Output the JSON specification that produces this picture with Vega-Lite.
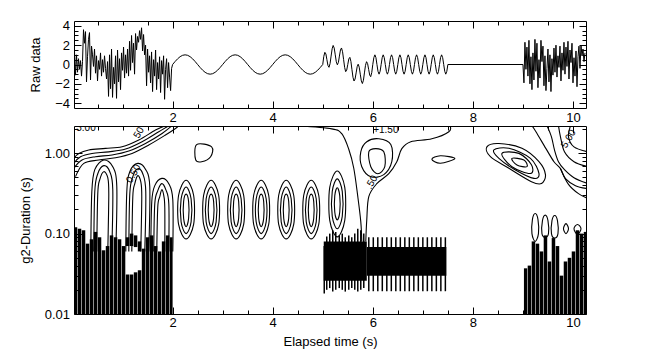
{
"$schema":"https://vega.github.io/schema/vega-lite/v6.json",
"background":"white",
"padding":{"left":18,"top":19,"right":5,"bottom":5},
"config":{"view":{"stroke":"black","strokeWidth":1},"font":"Liberation Sans",
"axis":{"domain":false,"grid":false,"tickColor":"black","tickWidth":1,"labelColor":"black","labelFontSize":13,"labelFont":"Liberation Sans","titleFont":"Liberation Sans","titleFontSize":13,"titleFontWeight":"normal","titleColor":"black","labelFlush":false,"labelOverlap":false}},
"datasets":{
"raw":[
{"t":0.02,"v":0.5},{"t":0.04,"v":1.3},{"t":0.06,"v":-1.1},{"t":0.08,"v":1.0},{"t":0.1,"v":-0.8},{"t":0.12,"v":0.6},{"t":0.14,"v":-0.5},{"t":0.16,"v":0.4},{"t":0.18,"v":-1.2},{"t":0.2,"v":0.3},
{"t":0.22,"v":3.6},{"t":0.24,"v":2.2},{"t":0.26,"v":3.4},{"t":0.28,"v":-1.8},{"t":0.3,"v":0.8},{"t":0.32,"v":2.6},{"t":0.34,"v":3.3},{"t":0.36,"v":-1.6},{"t":0.38,"v":1.9},{"t":0.4,"v":1.0},
{"t":0.42,"v":-0.2},{"t":0.44,"v":1.6},{"t":0.46,"v":-0.9},{"t":0.48,"v":0.9},{"t":0.5,"v":-1.7},{"t":0.52,"v":0.4},{"t":0.54,"v":-0.5},{"t":0.56,"v":1.2},{"t":0.58,"v":-1.2},{"t":0.6,"v":0.5},
{"t":0.62,"v":-0.8},{"t":0.64,"v":0.9},{"t":0.66,"v":-0.4},{"t":0.68,"v":-1.5},{"t":0.7,"v":0.3},{"t":0.72,"v":-3.3},{"t":0.74,"v":1.0},{"t":0.76,"v":-2.5},{"t":0.78,"v":1.6},{"t":0.8,"v":-3.4},
{"t":0.82,"v":-0.3},{"t":0.84,"v":-2.0},{"t":0.86,"v":0.9},{"t":0.88,"v":-3.5},{"t":0.9,"v":1.5},{"t":0.92,"v":-1.8},{"t":0.94,"v":0.6},{"t":0.96,"v":-2.6},{"t":0.98,"v":1.2},{"t":1.0,"v":-0.6},
{"t":1.02,"v":1.8},{"t":1.04,"v":-1.4},{"t":1.06,"v":1.0},{"t":1.08,"v":-0.9},{"t":1.1,"v":1.6},{"t":1.12,"v":-1.2},{"t":1.14,"v":2.4},{"t":1.16,"v":-0.6},{"t":1.18,"v":3.0},{"t":1.2,"v":0.2},
{"t":1.22,"v":2.2},{"t":1.24,"v":-1.0},{"t":1.26,"v":3.2},{"t":1.28,"v":1.5},{"t":1.3,"v":2.9},{"t":1.32,"v":2.3},{"t":1.34,"v":3.5},{"t":1.36,"v":2.6},{"t":1.38,"v":3.8},{"t":1.4,"v":1.4},
{"t":1.42,"v":3.1},{"t":1.44,"v":1.0},{"t":1.46,"v":2.0},{"t":1.48,"v":-2.2},{"t":1.5,"v":1.6},{"t":1.52,"v":-0.8},{"t":1.54,"v":0.9},{"t":1.56,"v":-1.9},{"t":1.58,"v":1.3},{"t":1.6,"v":-2.8},
{"t":1.62,"v":0.5},{"t":1.64,"v":-1.2},{"t":1.66,"v":1.5},{"t":1.68,"v":-2.6},{"t":1.7,"v":0.2},{"t":1.72,"v":-1.5},{"t":1.74,"v":0.8},{"t":1.76,"v":-2.9},{"t":1.78,"v":0.4},{"t":1.8,"v":-1.0},
{"t":1.82,"v":0.9},{"t":1.84,"v":-3.6},{"t":1.86,"v":-0.5},{"t":1.88,"v":0.6},{"t":1.9,"v":-2.4},{"t":1.92,"v":0.2},{"t":1.94,"v":-1.3},{"t":1.96,"v":-2.7},{"t":1.98,"v":-0.4},{"t":2.0,"v":0.0},
{"t":2.05,"v":0.309},{"t":2.1,"v":0.588},{"t":2.15,"v":0.809},{"t":2.2,"v":0.951},{"t":2.25,"v":1},{"t":2.3,"v":0.951},{"t":2.35,"v":0.809},{"t":2.4,"v":0.588},{"t":2.45,"v":0.309},{"t":2.5,"v":0},
{"t":2.55,"v":-0.309},{"t":2.6,"v":-0.588},{"t":2.65,"v":-0.809},{"t":2.7,"v":-0.951},{"t":2.75,"v":-1},{"t":2.8,"v":-0.951},{"t":2.85,"v":-0.809},{"t":2.9,"v":-0.588},{"t":2.95,"v":-0.309},{"t":3.0,"v":0},
{"t":3.05,"v":0.309},{"t":3.1,"v":0.588},{"t":3.15,"v":0.809},{"t":3.2,"v":0.951},{"t":3.25,"v":1},{"t":3.3,"v":0.951},{"t":3.35,"v":0.809},{"t":3.4,"v":0.588},{"t":3.45,"v":0.309},{"t":3.5,"v":0},
{"t":3.55,"v":-0.309},{"t":3.6,"v":-0.588},{"t":3.65,"v":-0.809},{"t":3.7,"v":-0.951},{"t":3.75,"v":-1},{"t":3.8,"v":-0.951},{"t":3.85,"v":-0.809},{"t":3.9,"v":-0.588},{"t":3.95,"v":-0.309},{"t":4.0,"v":0},
{"t":4.05,"v":0.309},{"t":4.1,"v":0.588},{"t":4.15,"v":0.809},{"t":4.2,"v":0.951},{"t":4.25,"v":1},{"t":4.3,"v":0.951},{"t":4.35,"v":0.809},{"t":4.4,"v":0.588},{"t":4.45,"v":0.309},{"t":4.5,"v":0},
{"t":4.55,"v":-0.309},{"t":4.6,"v":-0.588},{"t":4.65,"v":-0.809},{"t":4.7,"v":-0.951},{"t":4.75,"v":-1},{"t":4.8,"v":-0.951},{"t":4.85,"v":-0.809},{"t":4.9,"v":-0.588},{"t":4.95,"v":-0.309},{"t":5.0,"v":0},
{"t":5.021,"v":0.84},{"t":5.042,"v":1.26},{"t":5.063,"v":1.09},{"t":5.083,"v":0.5},{"t":5.104,"v":-0.1},{"t":5.125,"v":-0.29},{"t":5.146,"v":0.09},{"t":5.167,"v":0.87},
{"t":5.188,"v":1.63},{"t":5.208,"v":1.97},{"t":5.229,"v":1.7},{"t":5.25,"v":1.0},{"t":5.271,"v":0.28},{"t":5.292,"v":-0.03},{"t":5.313,"v":0.22},{"t":5.333,"v":0.87},
{"t":5.354,"v":1.5},{"t":5.375,"v":1.71},{"t":5.396,"v":1.32},{"t":5.417,"v":0.5},{"t":5.438,"v":-0.32},{"t":5.458,"v":-0.74},{"t":5.479,"v":-0.58},{"t":5.5,"v":0},
{"t":5.521,"v":0.58},{"t":5.542,"v":0.74},{"t":5.563,"v":0.32},{"t":5.583,"v":-0.5},{"t":5.604,"v":-1.32},{"t":5.625,"v":-1.71},{"t":5.646,"v":-1.5},{"t":5.667,"v":-0.87},
{"t":5.688,"v":-0.22},{"t":5.708,"v":0.03},{"t":5.729,"v":-0.28},{"t":5.75,"v":-1.0},{"t":5.771,"v":-1.7},{"t":5.792,"v":-1.97},{"t":5.813,"v":-1.63},{"t":5.833,"v":-0.87},
{"t":5.854,"v":-0.09},{"t":5.875,"v":0.29},{"t":5.896,"v":0.1},{"t":5.917,"v":-0.5},{"t":5.938,"v":-1.09},{"t":5.958,"v":-1.26},{"t":5.979,"v":-0.84},{"t":6.0,"v":0},
{"t":6.021,"v":0.707},{"t":6.042,"v":1},{"t":6.063,"v":0.707},{"t":6.083,"v":0},{"t":6.104,"v":-0.707},{"t":6.125,"v":-1},{"t":6.146,"v":-0.707},{"t":6.167,"v":0},
{"t":6.188,"v":0.707},{"t":6.208,"v":1},{"t":6.229,"v":0.707},{"t":6.25,"v":0},{"t":6.271,"v":-0.707},{"t":6.292,"v":-1},{"t":6.313,"v":-0.707},{"t":6.333,"v":0},
{"t":6.354,"v":0.707},{"t":6.375,"v":1},{"t":6.396,"v":0.707},{"t":6.417,"v":0},{"t":6.438,"v":-0.707},{"t":6.458,"v":-1},{"t":6.479,"v":-0.707},{"t":6.5,"v":0},
{"t":6.521,"v":0.707},{"t":6.542,"v":1},{"t":6.563,"v":0.707},{"t":6.583,"v":0},{"t":6.604,"v":-0.707},{"t":6.625,"v":-1},{"t":6.646,"v":-0.707},{"t":6.667,"v":0},
{"t":6.688,"v":0.707},{"t":6.708,"v":1},{"t":6.729,"v":0.707},{"t":6.75,"v":0},{"t":6.771,"v":-0.707},{"t":6.792,"v":-1},{"t":6.813,"v":-0.707},{"t":6.833,"v":0},
{"t":6.854,"v":0.707},{"t":6.875,"v":1},{"t":6.896,"v":0.707},{"t":6.917,"v":0},{"t":6.938,"v":-0.707},{"t":6.958,"v":-1},{"t":6.979,"v":-0.707},{"t":7.0,"v":0},
{"t":7.021,"v":0.707},{"t":7.042,"v":1},{"t":7.063,"v":0.707},{"t":7.083,"v":0},{"t":7.104,"v":-0.707},{"t":7.125,"v":-1},{"t":7.146,"v":-0.707},{"t":7.167,"v":0},
{"t":7.188,"v":0.707},{"t":7.208,"v":1},{"t":7.229,"v":0.707},{"t":7.25,"v":0},{"t":7.271,"v":-0.707},{"t":7.292,"v":-1},{"t":7.313,"v":-0.707},{"t":7.333,"v":0},
{"t":7.354,"v":0.707},{"t":7.375,"v":1},{"t":7.396,"v":0.707},{"t":7.417,"v":0},{"t":7.438,"v":-0.707},{"t":7.458,"v":-1},{"t":7.479,"v":-0.707},{"t":7.5,"v":0},
{"t":9.0,"v":0},
{"t":9.02,"v":-1.9},{"t":9.04,"v":2.3},{"t":9.06,"v":-0.5},{"t":9.08,"v":1.8},{"t":9.1,"v":-1.2},{"t":9.12,"v":2.5},{"t":9.14,"v":-2.0},{"t":9.16,"v":0.8},{"t":9.18,"v":-2.6},{"t":9.2,"v":1.2},
{"t":9.22,"v":-1.6},{"t":9.24,"v":2.6},{"t":9.26,"v":-0.7},{"t":9.28,"v":2.2},{"t":9.3,"v":-2.4},{"t":9.32,"v":0.5},{"t":9.34,"v":-1.4},{"t":9.36,"v":2.5},{"t":9.38,"v":0.3},{"t":9.4,"v":1.9},
{"t":9.42,"v":-2.2},{"t":9.44,"v":0.9},{"t":9.46,"v":-2.7},{"t":9.48,"v":-0.4},{"t":9.5,"v":1.6},{"t":9.52,"v":-1.8},{"t":9.54,"v":1.0},{"t":9.56,"v":-2.8},{"t":9.58,"v":0.6},{"t":9.6,"v":-1.1},
{"t":9.62,"v":1.7},{"t":9.64,"v":-0.8},{"t":9.66,"v":2.0},{"t":9.68,"v":-1.3},{"t":9.7,"v":0.9},{"t":9.72,"v":-0.3},{"t":9.74,"v":1.9},{"t":9.76,"v":-1.7},{"t":9.78,"v":1.2},{"t":9.8,"v":-0.6},
{"t":9.82,"v":2.3},{"t":9.84,"v":-1.0},{"t":9.86,"v":1.8},{"t":9.88,"v":-0.2},{"t":9.9,"v":2.4},{"t":9.92,"v":-1.5},{"t":9.94,"v":1.5},{"t":9.96,"v":0.2},{"t":9.98,"v":2.2},{"t":10.0,"v":-1.9},
{"t":10.02,"v":0.7},{"t":10.04,"v":-1.2},{"t":10.06,"v":1.4},{"t":10.08,"v":-2.3},{"t":10.1,"v":0.8},{"t":10.12,"v":1.9},{"t":10.14,"v":-0.4},{"t":10.16,"v":2.0},{"t":10.18,"v":0.9},{"t":10.2,"v":1.6},{"t":10.22,"v":0.3},{"t":10.24,"v":1.2}
],
"dense":[
{"x":0.03,"xe":0.095,"s":0.01,"se":0.12},{"x":0.105,"xe":0.175,"s":0.01,"se":0.115},{"x":0.185,"xe":0.255,"s":0.01,"se":0.11},{"x":0.265,"xe":0.335,"s":0.01,"se":0.075},{"x":0.345,"xe":0.415,"s":0.01,"se":0.085},
{"x":0.425,"xe":0.495,"s":0.01,"se":0.105},{"x":0.505,"xe":0.575,"s":0.01,"se":0.09},{"x":0.585,"xe":0.655,"s":0.01,"se":0.062},{"x":0.665,"xe":0.735,"s":0.01,"se":0.07},{"x":0.745,"xe":0.815,"s":0.01,"se":0.095},
{"x":0.825,"xe":0.895,"s":0.01,"se":0.09},{"x":0.905,"xe":0.975,"s":0.01,"se":0.085},{"x":0.985,"xe":1.055,"s":0.01,"se":0.07},
{"x":1.065,"xe":1.135,"s":0.01,"se":0.031},{"x":1.065,"xe":1.135,"s":0.07,"se":0.09},
{"x":1.145,"xe":1.215,"s":0.01,"se":0.031},{"x":1.145,"xe":1.215,"s":0.07,"se":0.1},
{"x":1.225,"xe":1.295,"s":0.01,"se":0.033},{"x":1.225,"xe":1.295,"s":0.068,"se":0.095},
{"x":1.305,"xe":1.375,"s":0.01,"se":0.035},{"x":1.305,"xe":1.375,"s":0.06,"se":0.08},
{"x":1.385,"xe":1.455,"s":0.01,"se":0.065},{"x":1.465,"xe":1.535,"s":0.01,"se":0.09},{"x":1.545,"xe":1.615,"s":0.01,"se":0.095},{"x":1.625,"xe":1.695,"s":0.01,"se":0.07},
{"x":1.705,"xe":1.775,"s":0.01,"se":0.06},{"x":1.785,"xe":1.855,"s":0.01,"se":0.08},{"x":1.865,"xe":1.935,"s":0.01,"se":0.095},{"x":1.945,"xe":2.0,"s":0.01,"se":0.09},
{"x":5.02,"xe":5.88,"s":0.026,"se":0.08},{"x":5.88,"xe":7.47,"s":0.03,"se":0.068},
{"x":9.02,"xe":9.085,"s":0.01,"se":0.037},{"x":9.095,"xe":9.165,"s":0.01,"se":0.04},{"x":9.175,"xe":9.245,"s":0.01,"se":0.08},{"x":9.255,"xe":9.325,"s":0.01,"se":0.075},
{"x":9.335,"xe":9.405,"s":0.01,"se":0.06},{"x":9.415,"xe":9.485,"s":0.01,"se":0.095},{"x":9.495,"xe":9.565,"s":0.01,"se":0.045},{"x":9.575,"xe":9.645,"s":0.01,"se":0.088},
{"x":9.655,"xe":9.725,"s":0.01,"se":0.07},{"x":9.735,"xe":9.805,"s":0.01,"se":0.03},{"x":9.815,"xe":9.885,"s":0.01,"se":0.045},{"x":9.895,"xe":9.965,"s":0.01,"se":0.05},
{"x":9.975,"xe":10.045,"s":0.01,"se":0.06},{"x":10.055,"xe":10.125,"s":0.01,"se":0.11},{"x":10.135,"xe":10.205,"s":0.01,"se":0.1},{"x":10.215,"xe":10.28,"s":0.01,"se":0.105}
],
"stripes":[
{"x":5.03,"s":0.018,"se":0.07},{"x":5.08,"s":0.02,"se":0.092},{"x":5.14,"s":0.021,"se":0.1},{"x":5.2,"s":0.019,"se":0.11},{"x":5.26,"s":0.02,"se":0.105},{"x":5.33,"s":0.021,"se":0.095},{"x":5.39,"s":0.02,"se":0.1},
{"x":5.45,"s":0.019,"se":0.09},{"x":5.52,"s":0.02,"se":0.095},{"x":5.58,"s":0.021,"se":0.09},{"x":5.64,"s":0.02,"se":0.1},{"x":5.7,"s":0.019,"se":0.115},{"x":5.76,"s":0.02,"se":0.11},{"x":5.82,"s":0.021,"se":0.1},
{"x":5.92,"s":0.0192,"se":0.09},{"x":6.01,"s":0.0192,"se":0.09},{"x":6.1,"s":0.0192,"se":0.09},{"x":6.19,"s":0.0192,"se":0.09},{"x":6.28,"s":0.0192,"se":0.09},{"x":6.37,"s":0.0192,"se":0.09},
{"x":6.46,"s":0.0192,"se":0.09},{"x":6.55,"s":0.0192,"se":0.09},{"x":6.64,"s":0.0192,"se":0.09},{"x":6.73,"s":0.0192,"se":0.09},{"x":6.82,"s":0.0192,"se":0.09},{"x":6.91,"s":0.0192,"se":0.09},
{"x":7.0,"s":0.0192,"se":0.09},{"x":7.09,"s":0.0192,"se":0.09},{"x":7.18,"s":0.0192,"se":0.09},{"x":7.27,"s":0.0192,"se":0.09},{"x":7.36,"s":0.0192,"se":0.09},{"x":7.45,"s":0.0192,"se":0.09}
],
"closed":[
{"id":"e1o","o":0,"x":2.27,"s":0.46},{"id":"e1o","o":1,"x":2.42,"s":0.3},{"id":"e1o","o":2,"x":2.42,"s":0.13},{"id":"e1o","o":3,"x":2.27,"s":0.086},{"id":"e1o","o":4,"x":2.12,"s":0.13},{"id":"e1o","o":5,"x":2.12,"s":0.3},
{"id":"e1m","o":0,"x":2.27,"s":0.38},{"id":"e1m","o":1,"x":2.37,"s":0.27},{"id":"e1m","o":2,"x":2.37,"s":0.14},{"id":"e1m","o":3,"x":2.27,"s":0.1},{"id":"e1m","o":4,"x":2.17,"s":0.14},{"id":"e1m","o":5,"x":2.17,"s":0.27},
{"id":"e1i","o":0,"x":2.27,"s":0.31},{"id":"e1i","o":1,"x":2.32,"s":0.25},{"id":"e1i","o":2,"x":2.32,"s":0.155},{"id":"e1i","o":3,"x":2.27,"s":0.122},{"id":"e1i","o":4,"x":2.22,"s":0.155},{"id":"e1i","o":5,"x":2.22,"s":0.25},
{"id":"e2o","o":0,"x":2.77,"s":0.46},{"id":"e2o","o":1,"x":2.92,"s":0.3},{"id":"e2o","o":2,"x":2.92,"s":0.13},{"id":"e2o","o":3,"x":2.77,"s":0.086},{"id":"e2o","o":4,"x":2.62,"s":0.13},{"id":"e2o","o":5,"x":2.62,"s":0.3},
{"id":"e2m","o":0,"x":2.77,"s":0.38},{"id":"e2m","o":1,"x":2.87,"s":0.27},{"id":"e2m","o":2,"x":2.87,"s":0.14},{"id":"e2m","o":3,"x":2.77,"s":0.1},{"id":"e2m","o":4,"x":2.67,"s":0.14},{"id":"e2m","o":5,"x":2.67,"s":0.27},
{"id":"e2i","o":0,"x":2.77,"s":0.31},{"id":"e2i","o":1,"x":2.82,"s":0.25},{"id":"e2i","o":2,"x":2.82,"s":0.155},{"id":"e2i","o":3,"x":2.77,"s":0.122},{"id":"e2i","o":4,"x":2.72,"s":0.155},{"id":"e2i","o":5,"x":2.72,"s":0.25},
{"id":"e3o","o":0,"x":3.27,"s":0.46},{"id":"e3o","o":1,"x":3.42,"s":0.3},{"id":"e3o","o":2,"x":3.42,"s":0.13},{"id":"e3o","o":3,"x":3.27,"s":0.086},{"id":"e3o","o":4,"x":3.12,"s":0.13},{"id":"e3o","o":5,"x":3.12,"s":0.3},
{"id":"e3m","o":0,"x":3.27,"s":0.38},{"id":"e3m","o":1,"x":3.37,"s":0.27},{"id":"e3m","o":2,"x":3.37,"s":0.14},{"id":"e3m","o":3,"x":3.27,"s":0.1},{"id":"e3m","o":4,"x":3.17,"s":0.14},{"id":"e3m","o":5,"x":3.17,"s":0.27},
{"id":"e3i","o":0,"x":3.27,"s":0.31},{"id":"e3i","o":1,"x":3.32,"s":0.25},{"id":"e3i","o":2,"x":3.32,"s":0.155},{"id":"e3i","o":3,"x":3.27,"s":0.122},{"id":"e3i","o":4,"x":3.22,"s":0.155},{"id":"e3i","o":5,"x":3.22,"s":0.25},
{"id":"e4o","o":0,"x":3.77,"s":0.46},{"id":"e4o","o":1,"x":3.92,"s":0.3},{"id":"e4o","o":2,"x":3.92,"s":0.13},{"id":"e4o","o":3,"x":3.77,"s":0.086},{"id":"e4o","o":4,"x":3.62,"s":0.13},{"id":"e4o","o":5,"x":3.62,"s":0.3},
{"id":"e4m","o":0,"x":3.77,"s":0.38},{"id":"e4m","o":1,"x":3.87,"s":0.27},{"id":"e4m","o":2,"x":3.87,"s":0.14},{"id":"e4m","o":3,"x":3.77,"s":0.1},{"id":"e4m","o":4,"x":3.67,"s":0.14},{"id":"e4m","o":5,"x":3.67,"s":0.27},
{"id":"e4i","o":0,"x":3.77,"s":0.31},{"id":"e4i","o":1,"x":3.82,"s":0.25},{"id":"e4i","o":2,"x":3.82,"s":0.155},{"id":"e4i","o":3,"x":3.77,"s":0.122},{"id":"e4i","o":4,"x":3.72,"s":0.155},{"id":"e4i","o":5,"x":3.72,"s":0.25},
{"id":"e5o","o":0,"x":4.27,"s":0.46},{"id":"e5o","o":1,"x":4.42,"s":0.3},{"id":"e5o","o":2,"x":4.42,"s":0.13},{"id":"e5o","o":3,"x":4.27,"s":0.086},{"id":"e5o","o":4,"x":4.12,"s":0.13},{"id":"e5o","o":5,"x":4.12,"s":0.3},
{"id":"e5m","o":0,"x":4.27,"s":0.38},{"id":"e5m","o":1,"x":4.37,"s":0.27},{"id":"e5m","o":2,"x":4.37,"s":0.14},{"id":"e5m","o":3,"x":4.27,"s":0.1},{"id":"e5m","o":4,"x":4.17,"s":0.14},{"id":"e5m","o":5,"x":4.17,"s":0.27},
{"id":"e5i","o":0,"x":4.27,"s":0.31},{"id":"e5i","o":1,"x":4.32,"s":0.25},{"id":"e5i","o":2,"x":4.32,"s":0.155},{"id":"e5i","o":3,"x":4.27,"s":0.122},{"id":"e5i","o":4,"x":4.22,"s":0.155},{"id":"e5i","o":5,"x":4.22,"s":0.25},
{"id":"e6o","o":0,"x":4.77,"s":0.46},{"id":"e6o","o":1,"x":4.92,"s":0.3},{"id":"e6o","o":2,"x":4.92,"s":0.13},{"id":"e6o","o":3,"x":4.77,"s":0.086},{"id":"e6o","o":4,"x":4.62,"s":0.13},{"id":"e6o","o":5,"x":4.62,"s":0.3},
{"id":"e6m","o":0,"x":4.77,"s":0.38},{"id":"e6m","o":1,"x":4.87,"s":0.27},{"id":"e6m","o":2,"x":4.87,"s":0.14},{"id":"e6m","o":3,"x":4.77,"s":0.1},{"id":"e6m","o":4,"x":4.67,"s":0.14},{"id":"e6m","o":5,"x":4.67,"s":0.27},
{"id":"e6i","o":0,"x":4.77,"s":0.31},{"id":"e6i","o":1,"x":4.82,"s":0.25},{"id":"e6i","o":2,"x":4.82,"s":0.155},{"id":"e6i","o":3,"x":4.77,"s":0.122},{"id":"e6i","o":4,"x":4.72,"s":0.155},{"id":"e6i","o":5,"x":4.72,"s":0.25},
{"id":"e7o","o":0,"x":5.29,"s":0.6},{"id":"e7o","o":1,"x":5.44,"s":0.376},{"id":"e7o","o":2,"x":5.44,"s":0.146},{"id":"e7o","o":3,"x":5.29,"s":0.091},{"id":"e7o","o":4,"x":5.14,"s":0.146},{"id":"e7o","o":5,"x":5.14,"s":0.376},
{"id":"e7m","o":0,"x":5.29,"s":0.48},{"id":"e7m","o":1,"x":5.39,"s":0.335},{"id":"e7m","o":2,"x":5.39,"s":0.164},{"id":"e7m","o":3,"x":5.29,"s":0.115},{"id":"e7m","o":4,"x":5.19,"s":0.164},{"id":"e7m","o":5,"x":5.19,"s":0.335},
{"id":"e7i","o":0,"x":5.29,"s":0.372},{"id":"e7i","o":1,"x":5.34,"s":0.295},{"id":"e7i","o":2,"x":5.34,"s":0.186},{"id":"e7i","o":3,"x":5.29,"s":0.148},{"id":"e7i","o":4,"x":5.24,"s":0.186},{"id":"e7i","o":5,"x":5.24,"s":0.295},
{"id":"b1","o":0,"x":2.48,"s":1.28},{"id":"b1","o":1,"x":2.78,"s":1.2},{"id":"b1","o":2,"x":2.76,"s":0.905},{"id":"b1","o":3,"x":2.58,"s":0.784},{"id":"b1","o":4,"x":2.46,"s":0.83},
{"id":"cC","o":0,"x":5.76,"s":1.04},{"id":"cC","o":1,"x":5.88,"s":1.39},{"id":"cC","o":2,"x":6.12,"s":1.51},{"id":"cC","o":3,"x":6.36,"s":1.28},{"id":"cC","o":4,"x":6.38,"s":0.784},{"id":"cC","o":5,"x":6.22,"s":0.541},{"id":"cC","o":6,"x":5.96,"s":0.511},{"id":"cC","o":7,"x":5.78,"s":0.68},
{"id":"cD","o":0,"x":5.92,"s":1.04},{"id":"cD","o":1,"x":6.06,"s":1.14},{"id":"cD","o":2,"x":6.22,"s":1.04},{"id":"cD","o":3,"x":6.24,"s":0.68},{"id":"cD","o":4,"x":6.1,"s":0.556},{"id":"cD","o":5,"x":5.96,"s":0.68},
{"id":"lens","o":0,"x":7.18,"s":0.84},{"id":"lens","o":1,"x":7.35,"s":0.93},{"id":"lens","o":2,"x":7.64,"s":0.86},{"id":"lens","o":3,"x":7.35,"s":0.75},
{"id":"t1","o":0,"x":8.28,"s":1.2},{"id":"t1","o":1,"x":8.52,"s":1.32},{"id":"t1","o":2,"x":8.98,"s":1.15},{"id":"t1","o":3,"x":9.32,"s":0.784},{"id":"t1","o":4,"x":9.45,"s":0.541},{"id":"t1","o":5,"x":9.37,"s":0.42},{"id":"t1","o":6,"x":9.17,"s":0.443},{"id":"t1","o":7,"x":8.72,"s":0.65},{"id":"t1","o":8,"x":8.35,"s":0.905},
{"id":"t2","o":0,"x":8.42,"s":1.1},{"id":"t2","o":1,"x":8.72,"s":1.15},{"id":"t2","o":2,"x":9.15,"s":0.862},{"id":"t2","o":3,"x":9.32,"s":0.56},{"id":"t2","o":4,"x":9.22,"s":0.486},{"id":"t2","o":5,"x":8.85,"s":0.618},{"id":"t2","o":6,"x":8.52,"s":0.862},
{"id":"t3","o":0,"x":8.58,"s":0.995},{"id":"t3","o":1,"x":8.92,"s":0.995},{"id":"t3","o":2,"x":9.17,"s":0.72},{"id":"t3","o":3,"x":9.15,"s":0.56},{"id":"t3","o":4,"x":8.78,"s":0.68},
{"id":"t4","o":0,"x":8.78,"s":0.862},{"id":"t4","o":1,"x":9.02,"s":0.823},{"id":"t4","o":2,"x":9.08,"s":0.68},{"id":"t4","o":3,"x":8.88,"s":0.714},
{"id":"c1","o":0,"x":9.245,"s":0.178},{"id":"c1","o":1,"x":9.3,"s":0.15},{"id":"c1","o":2,"x":9.31,"s":0.1},{"id":"c1","o":3,"x":9.245,"s":0.08},{"id":"c1","o":4,"x":9.18,"s":0.1},{"id":"c1","o":5,"x":9.19,"s":0.15},
{"id":"c2","o":0,"x":9.445,"s":0.17},{"id":"c2","o":1,"x":9.5,"s":0.145},{"id":"c2","o":2,"x":9.51,"s":0.1},{"id":"c2","o":3,"x":9.445,"s":0.09},{"id":"c2","o":4,"x":9.38,"s":0.1},{"id":"c2","o":5,"x":9.39,"s":0.145},
{"id":"c3","o":0,"x":9.635,"s":0.168},{"id":"c3","o":1,"x":9.69,"s":0.145},{"id":"c3","o":2,"x":9.7,"s":0.1},{"id":"c3","o":3,"x":9.635,"s":0.088},{"id":"c3","o":4,"x":9.57,"s":0.1},{"id":"c3","o":5,"x":9.58,"s":0.145},
{"id":"c4","o":0,"x":9.86,"s":0.133},{"id":"c4","o":1,"x":9.91,"s":0.115},{"id":"c4","o":2,"x":9.86,"s":0.1},{"id":"c4","o":3,"x":9.81,"s":0.115},
{"id":"c5","o":0,"x":10.09,"s":0.13},{"id":"c5","o":1,"x":10.16,"s":0.115},{"id":"c5","o":2,"x":10.09,"s":0.097},{"id":"c5","o":3,"x":10.02,"s":0.115}
],
"open":[
{"id":"A","o":0,"x":4.52,"s":2.2},{"id":"A","o":1,"x":5.18,"s":2.01},{"id":"A","o":2,"x":5.38,"s":1.75},{"id":"A","o":3,"x":5.52,"s":1.12},{"id":"A","o":4,"x":5.62,"s":0.65},{"id":"A","o":5,"x":5.7,"s":0.29},{"id":"A","o":6,"x":5.76,"s":0.141},{"id":"A","o":7,"x":5.78,"s":0.08},
{"id":"B","o":0,"x":5.86,"s":0.08},{"id":"B","o":1,"x":5.88,"s":0.15},{"id":"B","o":2,"x":5.92,"s":0.288},{"id":"B","o":3,"x":6.08,"s":0.418},{"id":"B","o":4,"x":6.32,"s":0.556},{"id":"B","o":5,"x":6.48,"s":0.784},{"id":"B","o":6,"x":6.58,"s":1.14},{"id":"B","o":7,"x":6.76,"s":1.39},{"id":"B","o":8,"x":7.18,"s":1.51},{"id":"B","o":9,"x":7.52,"s":1.85},{"id":"B","o":10,"x":7.54,"s":2.2},
{"id":"L1a","o":0,"x":0.366,"s":0.06},{"id":"L1a","o":1,"x":0.386,"s":0.332},{"id":"L1a","o":2,"x":0.445,"s":0.624},{"id":"L1a","o":3,"x":0.625,"s":0.823},{"id":"L1a","o":4,"x":0.805,"s":0.68},{"id":"L1a","o":5,"x":0.885,"s":0.384},{"id":"L1a","o":6,"x":0.865,"s":0.06},
{"id":"L1b","o":0,"x":0.425,"s":0.06},{"id":"L1b","o":1,"x":0.445,"s":0.332},{"id":"L1b","o":2,"x":0.505,"s":0.556},{"id":"L1b","o":3,"x":0.625,"s":0.7},{"id":"L1b","o":4,"x":0.745,"s":0.589},{"id":"L1b","o":5,"x":0.805,"s":0.352},{"id":"L1b","o":6,"x":0.785,"s":0.06},
{"id":"L1c","o":0,"x":0.485,"s":0.06},{"id":"L1c","o":1,"x":0.505,"s":0.314},{"id":"L1c","o":2,"x":0.545,"s":0.469},{"id":"L1c","o":3,"x":0.625,"s":0.589},{"id":"L1c","o":4,"x":0.705,"s":0.496},{"id":"L1c","o":5,"x":0.725,"s":0.314},{"id":"L1c","o":6,"x":0.705,"s":0.06},
{"id":"L2a","o":0,"x":1.065,"s":0.06},{"id":"L2a","o":1,"x":1.085,"s":0.332},{"id":"L2a","o":2,"x":1.145,"s":0.589},{"id":"L2a","o":3,"x":1.305,"s":0.747},{"id":"L2a","o":4,"x":1.464,"s":0.624},{"id":"L2a","o":5,"x":1.544,"s":0.384},{"id":"L2a","o":6,"x":1.524,"s":0.06},
{"id":"L2b","o":0,"x":1.125,"s":0.06},{"id":"L2b","o":1,"x":1.145,"s":0.314},{"id":"L2b","o":2,"x":1.205,"s":0.511},{"id":"L2b","o":3,"x":1.305,"s":0.642},{"id":"L2b","o":4,"x":1.404,"s":0.556},{"id":"L2b","o":5,"x":1.464,"s":0.332},{"id":"L2b","o":6,"x":1.444,"s":0.06},
{"id":"L2c","o":0,"x":1.185,"s":0.06},{"id":"L2c","o":1,"x":1.205,"s":0.288},{"id":"L2c","o":2,"x":1.245,"s":0.418},{"id":"L2c","o":3,"x":1.305,"s":0.526},{"id":"L2c","o":4,"x":1.364,"s":0.443},{"id":"L2c","o":5,"x":1.384,"s":0.288},{"id":"L2c","o":6,"x":1.364,"s":0.06},
{"id":"L3a","o":0,"x":1.564,"s":0.06},{"id":"L3a","o":1,"x":1.584,"s":0.25},{"id":"L3a","o":2,"x":1.644,"s":0.395},{"id":"L3a","o":3,"x":1.784,"s":0.486},{"id":"L3a","o":4,"x":1.924,"s":0.418},{"id":"L3a","o":5,"x":2.004,"s":0.264},{"id":"L3a","o":6,"x":2.004,"s":0.06},
{"id":"L3b","o":0,"x":1.624,"s":0.06},{"id":"L3b","o":1,"x":1.644,"s":0.236},{"id":"L3b","o":2,"x":1.704,"s":0.342},{"id":"L3b","o":3,"x":1.784,"s":0.418},{"id":"L3b","o":4,"x":1.864,"s":0.352},{"id":"L3b","o":5,"x":1.924,"s":0.236},{"id":"L3b","o":6,"x":1.924,"s":0.06},
{"id":"L3c","o":0,"x":1.684,"s":0.06},{"id":"L3c","o":1,"x":1.704,"s":0.216},{"id":"L3c","o":2,"x":1.744,"s":0.288},{"id":"L3c","o":3,"x":1.784,"s":0.352},{"id":"L3c","o":4,"x":1.824,"s":0.297},{"id":"L3c","o":5,"x":1.844,"s":0.21},{"id":"L3c","o":6,"x":1.844,"s":0.06},
{"id":"n1","o":0,"x":0.026,"s":0.862},{"id":"n1","o":1,"x":0.126,"s":0.994},{"id":"n1","o":2,"x":0.326,"s":1.096},{"id":"n1","o":3,"x":0.66,"s":1.147},{"id":"n1","o":4,"x":0.99,"s":1.204},{"id":"n1","o":5,"x":1.324,"s":1.459},{"id":"n1","o":6,"x":1.658,"s":1.94},{"id":"n1","o":7,"x":1.858,"s":2.2},
{"id":"n2","o":0,"x":0.026,"s":0.747},{"id":"n2","o":1,"x":0.16,"s":0.905},{"id":"n2","o":2,"x":0.39,"s":0.994},{"id":"n2","o":3,"x":0.725,"s":1.04},{"id":"n2","o":4,"x":1.06,"s":1.127},{"id":"n2","o":5,"x":1.39,"s":1.39},{"id":"n2","o":6,"x":1.724,"s":1.85},{"id":"n2","o":7,"x":1.924,"s":2.2},
{"id":"n3","o":0,"x":0.026,"s":0.647},{"id":"n3","o":1,"x":0.19,"s":0.823},{"id":"n3","o":2,"x":0.46,"s":0.905},{"id":"n3","o":3,"x":0.79,"s":0.95},{"id":"n3","o":4,"x":1.125,"s":1.065},{"id":"n3","o":5,"x":1.458,"s":1.323},{"id":"n3","o":6,"x":1.79,"s":1.762},{"id":"n3","o":7,"x":1.99,"s":2.2},
{"id":"n4","o":0,"x":0.06,"s":0.511},{"id":"n4","o":1,"x":0.226,"s":0.747},{"id":"n4","o":2,"x":0.525,"s":0.823},{"id":"n4","o":3,"x":0.86,"s":0.879},{"id":"n4","o":4,"x":1.19,"s":0.994},{"id":"n4","o":5,"x":1.524,"s":1.264},{"id":"n4","o":6,"x":1.858,"s":1.683},{"id":"n4","o":7,"x":2.058,"s":2.03},{"id":"n4","o":8,"x":2.12,"s":2.2},
{"id":"R1","o":0,"x":9.18,"s":2.2},{"id":"R1","o":1,"x":9.26,"s":1.85},{"id":"R1","o":2,"x":9.46,"s":1.14},{"id":"R1","o":3,"x":9.62,"s":0.784},{"id":"R1","o":4,"x":9.75,"s":0.642},{"id":"R1","o":5,"x":9.85,"s":0.483},{"id":"R1","o":6,"x":10.05,"s":0.395},{"id":"R1","o":7,"x":10.3,"s":0.362},
{"id":"R2","o":0,"x":9.48,"s":2.2},{"id":"R2","o":1,"x":9.57,"s":1.6},{"id":"R2","o":2,"x":9.63,"s":1.1},{"id":"R2","o":3,"x":9.71,"s":0.784},{"id":"R2","o":4,"x":9.83,"s":0.624},{"id":"R2","o":5,"x":10.02,"s":0.496},{"id":"R2","o":6,"x":10.3,"s":0.418},
{"id":"R3","o":0,"x":9.71,"s":2.2},{"id":"R3","o":1,"x":9.75,"s":1.6},{"id":"R3","o":2,"x":9.83,"s":1.04},{"id":"R3","o":3,"x":10.02,"s":0.784},{"id":"R3","o":4,"x":10.3,"s":0.68},
{"id":"R4","o":0,"x":9.95,"s":2.2},{"id":"R4","o":1,"x":9.91,"s":1.6},{"id":"R4","o":2,"x":10.02,"s":1.2},{"id":"R4","o":3,"x":10.3,"s":1.04},
{"id":"R5","o":0,"x":9.75,"s":0.642},{"id":"R5","o":1,"x":9.91,"s":0.41},{"id":"R5","o":2,"x":10.11,"s":0.314},{"id":"R5","o":3,"x":10.3,"s":0.273}
],
"labh":[{"x":0.27,"s":2.07,"t":"3.00"},{"x":6.26,"s":1.95,"t":"+1.50"}],
"labr":[{"x":1.326,"s":1.8,"t":"50"},{"x":5.98,"s":0.436,"t":".50"},{"x":9.91,"s":1.51,"t":"5.00"},{"x":1.22,"s":0.556,"t":"0.50"}]
},
"spacing":18,
"bounds":"flush",
"vconcat":[
{
"width":512,"height":87,
"data":{"name":"raw"},
"layer":[
{"mark":{"type":"line","color":"black","strokeWidth":1,"clip":true},
"encoding":{
"x":{"field":"t","type":"quantitative","scale":{"domain":[0.03,10.26],"nice":false,"zero":false},
"axis":{"orient":"bottom","values":[0.5,1,1.5,2,2.5,3,3.5,4,4.5,5,5.5,6,6.5,7,7.5,8,8.5,9,9.5,10],"labelExpr":"datum.value % 2 === 0 ? format(datum.value, 'd') : ''","tickSize":{"condition":{"test":"datum.value % 2 === 0","value":-7},"value":-4},"labelPadding":10,"title":null}},
"y":{"field":"v","type":"quantitative","scale":{"domain":[-4.5,4.5],"nice":false,"zero":false},
"axis":{"orient":"left","values":[-4,-3.5,-3,-2.5,-2,-1.5,-1,-0.5,0,0.5,1,1.5,2,2.5,3,3.5,4],"labelExpr":"datum.value % 2 === 0 ? format(datum.value, 'd') : ''","tickSize":{"condition":{"test":"datum.value % 2 === 0","value":-7},"value":-4},"labelPadding":11.5,"title":"Raw data","titlePadding":12}}
}},
{"mark":{"type":"point","opacity":0},
"encoding":{
"x":{"field":"t","type":"quantitative","scale":{"domain":[0.03,10.26],"nice":false,"zero":false},
"axis":{"orient":"top","values":[0.5,1,1.5,2,2.5,3,3.5,4,4.5,5,5.5,6,6.5,7,7.5,8,8.5,9,9.5,10],"labels":false,"tickSize":{"condition":{"test":"datum.value % 2 === 0","value":-7},"value":-4},"title":null}},
"y":{"field":"v","type":"quantitative","scale":{"domain":[-4.5,4.5],"nice":false,"zero":false},
"axis":{"orient":"right","values":[-4,-3.5,-3,-2.5,-2,-1.5,-1,-0.5,0,0.5,1,1.5,2,2.5,3,3.5,4],"labels":false,"tickSize":{"condition":{"test":"datum.value % 2 === 0","value":-7},"value":-4},"title":null}}
}}
],
"resolve":{"axis":{"x":"independent","y":"independent"}}
},
{
"width":512,"height":188,
"encoding":{
"x":{"field":"x","type":"quantitative","scale":{"domain":[0.03,10.26],"nice":false,"zero":false},"axis":null},
"y":{"field":"s","type":"quantitative","scale":{"type":"log","domain":[0.01,2.18],"nice":false},"axis":null}
},
"layer":[
{"data":{"name":"dense"},"mark":{"type":"rect","color":"black","clip":true},"encoding":{"x2":{"field":"xe"},"y2":{"field":"se"}}},
{"data":{"name":"stripes"},"mark":{"type":"rule","color":"black","strokeWidth":1.5,"clip":true},"encoding":{"y2":{"field":"se"}}},
{"data":{"name":"closed"},"mark":{"type":"line","color":"black","strokeWidth":1.1,"interpolate":"cardinal-closed","clip":true},"encoding":{"detail":{"field":"id"},"order":{"field":"o","type":"quantitative"}}},
{"data":{"name":"open"},"mark":{"type":"line","color":"black","strokeWidth":1.1,"interpolate":"cardinal","clip":true},"encoding":{"detail":{"field":"id"},"order":{"field":"o","type":"quantitative"}}},
{"data":{"name":"labh"},"mark":{"type":"text","fontSize":10,"color":"black","clip":true},"encoding":{"text":{"field":"t"}}},
{"data":{"name":"labr"},"mark":{"type":"text","fontSize":10,"color":"black","angle":300,"clip":true},"encoding":{"text":{"field":"t"}}},
{"data":{"name":"open"},"mark":{"type":"point","opacity":0},
"encoding":{
"x":{"field":"x","type":"quantitative","scale":{"domain":[0.03,10.26],"nice":false,"zero":false},
"axis":{"orient":"bottom","values":[0.5,1,1.5,2,2.5,3,3.5,4,4.5,5,5.5,6,6.5,7,7.5,8,8.5,9,9.5,10],"labelExpr":"datum.value % 2 === 0 ? format(datum.value, 'd') : ''","tickSize":{"condition":{"test":"datum.value % 2 === 0","value":-7},"value":-4},"labelPadding":9,"title":"Elapsed time (s)","titlePadding":3}},
"y":{"field":"s","type":"quantitative","scale":{"type":"log","domain":[0.01,2.18],"nice":false},
"axis":{"orient":"left","values":[0.01,0.02,0.03,0.04,0.05,0.06,0.07,0.08,0.09,0.1,0.2,0.3,0.4,0.5,0.6,0.7,0.8,0.9,1,2],"labelExpr":"(datum.value === 0.01 || datum.value === 0.1 || datum.value === 1) ? format(datum.value, '.2f') : ''","tickSize":{"condition":{"test":"datum.value === 0.01 || datum.value === 0.1 || datum.value === 1","value":-8},"value":-4},"labelPadding":12.5,"title":"g2-Duration (s)","titlePadding":12}}
}},
{"data":{"name":"open"},"mark":{"type":"point","opacity":0},
"encoding":{
"x":{"field":"x","type":"quantitative","scale":{"domain":[0.03,10.26],"nice":false,"zero":false},
"axis":{"orient":"top","values":[0.5,1,1.5,2,2.5,3,3.5,4,4.5,5,5.5,6,6.5,7,7.5,8,8.5,9,9.5,10],"labels":false,"tickSize":{"condition":{"test":"datum.value % 2 === 0","value":-7},"value":-4},"title":null}},
"y":{"field":"s","type":"quantitative","scale":{"type":"log","domain":[0.01,2.18],"nice":false},
"axis":{"orient":"right","values":[0.01,0.02,0.03,0.04,0.05,0.06,0.07,0.08,0.09,0.1,0.2,0.3,0.4,0.5,0.6,0.7,0.8,0.9,1,2],"labels":false,"tickSize":{"condition":{"test":"datum.value === 0.01 || datum.value === 0.1 || datum.value === 1","value":-8},"value":-4},"title":null}}
}}
],
"resolve":{"axis":{"x":"independent","y":"independent"}}
}
]
}
